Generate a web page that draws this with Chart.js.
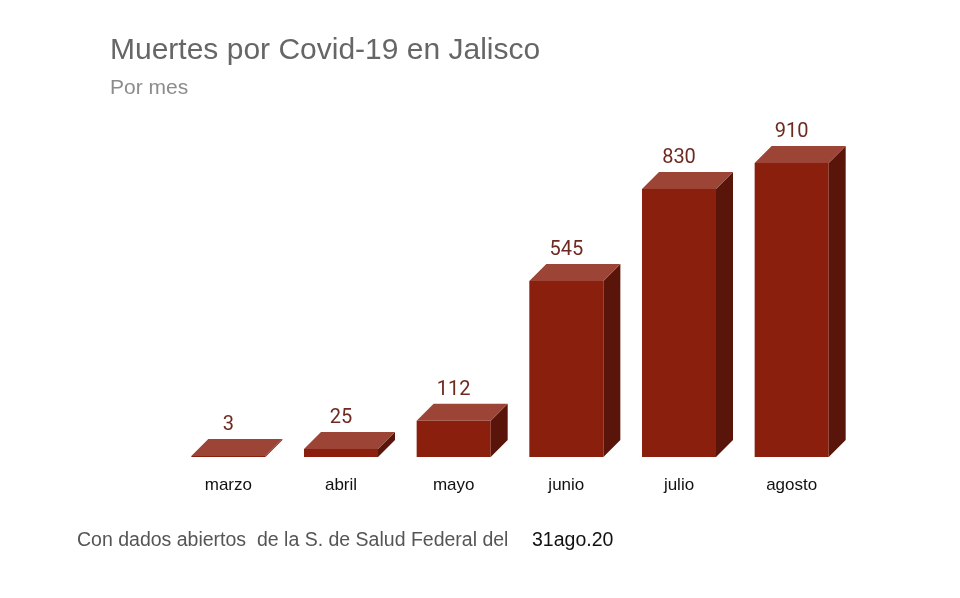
<!DOCTYPE html>
<html>
<head>
<meta charset="utf-8">
<script src="https://cdn.jsdelivr.net/npm/chart.js@4"></script>
<style>
  html, body { margin: 0; padding: 0; background: #fff; }
  #wrap { position: relative; width: 960px; height: 598px; overflow: hidden; }
  #c { position: absolute; left: 0; top: 0; }
  .t { position: absolute; white-space: pre; font-family: "Liberation Sans", Arial, sans-serif; }
  #title { left: 110px; top: 34px; font-size: 30px; line-height: 30px; color: #666; }
  #sub { left: 110px; top: 76px; font-size: 21px; line-height: 21px; color: #8c8c8c; }
  #foot { left: 77px; top: 530px; font-size: 19.5px; line-height: 19.5px; color: #555; }
  #date { left: 532px; top: 530px; font-size: 19.5px; line-height: 19.5px; color: #111; }
</style>
</head>
<body>
<div id="wrap">
  <canvas id="c" width="960" height="598"></canvas>
  <div class="t" id="title">Muertes por Covid-19 en Jalisco</div>
  <div class="t" id="sub">Por mes</div>
  <div class="t" id="foot">Con dados abiertos  de la S. de Salud Federal del</div>
  <div class="t" id="date">31ago.20</div>
</div>
<script>
const categories = ["marzo", "abril", "mayo", "junio", "julio", "agosto"];
const deaths = [3, 25, 112, 545, 830, 910];

const DEPTH_X = 17, DEPTH_Y = -17;
const FRONT = "#8a1f0d", TOP = "#9c4536", SIDE = "#5a150a";

const bar3d = {
  id: "bar3d",
  afterDatasetsDraw(chart) {
    const ctx = chart.ctx;
    const meta = chart.getDatasetMeta(0);
    ctx.save();
    meta.data.forEach((bar, i) => {
      const p = bar.getProps(["x", "y", "base", "width"], true);
      const L = p.x - p.width / 2, R = p.x + p.width / 2, T = p.y, B = p.base;
      ctx.fillStyle = SIDE;
      ctx.beginPath();
      ctx.moveTo(R, T);
      ctx.lineTo(R + DEPTH_X, T + DEPTH_Y);
      ctx.lineTo(R + DEPTH_X, B + DEPTH_Y);
      ctx.lineTo(R, B);
      ctx.closePath();
      ctx.fill();
      ctx.fillStyle = TOP;
      ctx.beginPath();
      ctx.moveTo(L, T);
      ctx.lineTo(R, T);
      ctx.lineTo(R + DEPTH_X, T + DEPTH_Y);
      ctx.lineTo(L + DEPTH_X, T + DEPTH_Y);
      ctx.closePath();
      ctx.fill();
      ctx.fillStyle = "#6e2a20";
      ctx.font = "20px Roboto, 'Liberation Sans', sans-serif";
      ctx.textAlign = "center";
      ctx.textBaseline = "alphabetic";
      ctx.fillText(String(deaths[i]), p.x, T + DEPTH_Y - 9);
    });
    ctx.restore();
  }
};

new Chart(document.getElementById("c"), {
  type: "bar",
  data: {
    labels: categories,
    datasets: [{
      data: deaths,
      backgroundColor: FRONT,
      borderWidth: 0,
      categoryPercentage: 1.0,
      barPercentage: 0.657
    }]
  },
  options: {
    responsive: false,
    animation: false,
    devicePixelRatio: 1,
    layout: { padding: { left: 172, right: 112, top: 134, bottom: 101 } },
    plugins: { legend: { display: false }, tooltip: { enabled: false }, title: { display: false } },
    scales: {
      x: {
        grid: { display: false, drawTicks: false },
        border: { display: false },
        ticks: { color: "#111", font: { family: "'Liberation Sans', Arial, sans-serif", size: 17 }, padding: 18 },
        afterFit: s => { s.height = 40; }
      },
      y: {
        display: false,
        min: 0,
        max: 1000
      }
    }
  },
  plugins: [bar3d]
});
</script>
</body>
</html>
